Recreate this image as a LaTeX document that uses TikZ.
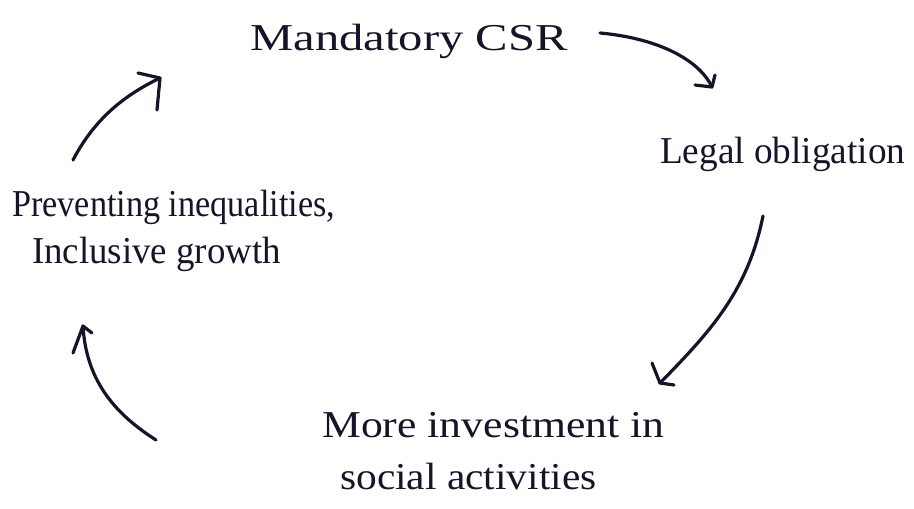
\documentclass[tikz,border=0pt]{standalone}
\usepackage{fontspec}
\setmainfont{Liberation Serif}
\definecolor{ink}{HTML}{15152A}
% horizontally stretched line of text
\newcommand{\wideline}[2]{\scalebox{#1}[1]{#2}}
\begin{document}
\begin{tikzpicture}[x=1pt,y=-1pt,
  label text/.style={text=ink, font=\fontsize{38}{50}\selectfont, inner sep=0pt},
  stroke/.style={draw=ink, line width=3.2pt, line cap=round, line join=round}]
\useasboundingbox (0,0) rectangle (914,509);
\fill[white] (0,0) rectangle (914,509);

% stages of the cycle
\node[label text, anchor=base west] (csr) at (250,50) {\wideline{1.28}{Mandatory CSR}};
\node[label text, anchor=base west] (legal) at (660,163) {\wideline{0.98}{Legal obligation}};
\node[label text, align=left, anchor=north west] (invest) at (322,412)
  {\wideline{1.15}{More investment in}\\[2pt]\hspace{18pt}\wideline{1.09}{social activities}};
\node[label text, align=left, anchor=north west] (prevent) at (12,190)
  {\wideline{0.9}{Preventing inequalities,}\\[-3pt]\hspace{20pt}\wideline{0.97}{Inclusive growth}};

% arrow ends
\coordinate (a1s) at (600,33);  \coordinate (a1t) at (712,87);
\coordinate (a2s) at (763,216); \coordinate (a2t) at (660,383);
\coordinate (a3s) at (156,440); \coordinate (a3t) at (83,326);
\coordinate (a4s) at (73,160);  \coordinate (a4t) at (160,78);

% CSR -> legal obligation
\draw[stroke] (a1s) .. controls (655,38) and (698,58) .. (a1t);
\draw[stroke] (695,85) -- (a1t) -- (715,75);
% legal obligation -> investment
\draw[stroke] (a2s) .. controls (748,290) and (712,330) .. (a2t);
\draw[stroke] (652,363) -- (a2t) -- (674,385);
% investment -> preventing inequalities
\draw[stroke] (a3s) .. controls (112,412) and (86,378) .. (a3t);
\draw[stroke] (73,353) -- (a3t) -- (92,333);
% preventing inequalities -> CSR
\draw[stroke] (a4s) .. controls (95,118) and (125,95) .. (a4t);
\draw[stroke] (138,73) -- (a4t) -- (157,110);
\end{tikzpicture}
\end{document}
